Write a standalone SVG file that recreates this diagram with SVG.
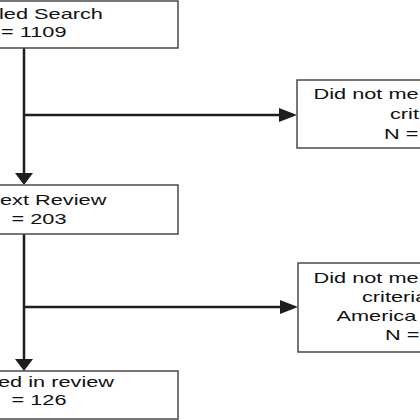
<svg xmlns="http://www.w3.org/2000/svg" width="420" height="420" viewBox="0 0 420 420">
<style>
  .box { fill: #ffffff; stroke: #4a4a4a; stroke-width: 1.5; }
  .t { font-family: "Liberation Sans", Arial, sans-serif; font-size: 14.8px; fill: #111111; }
  .line { fill: none; stroke: #1e1e1e; stroke-width: 2.5; }
</style>
<defs>
  <marker id="ahDown" markerUnits="userSpaceOnUse" viewBox="0 0 18 12" markerWidth="18" markerHeight="12" refX="9" refY="7" orient="0">
    <path d="M0,0 L18,0 L9,12 Z" fill="#1e1e1e"/>
  </marker>
  <marker id="ahRight" markerUnits="userSpaceOnUse" viewBox="0 0 18 14" markerWidth="18" markerHeight="14" refX="13" refY="7" orient="0">
    <path d="M0,0 L18,7 L0,14 Z" fill="#1e1e1e"/>
  </marker>
</defs>
<rect width="420" height="420" fill="#ffffff"/>

<g id="connectors">
  <path class="line" d="M24,48 V180" marker-end="url(#ahDown)"/>
  <path class="line" d="M24,115 H292" marker-end="url(#ahRight)"/>
  <path class="line" d="M24,234 V366" marker-end="url(#ahDown)"/>
  <path class="line" d="M24,307 H293" marker-end="url(#ahRight)"/>
</g>

<g id="node-search">
  <rect class="box" x="-20" y="1" width="198" height="47"/>
  <text class="t" transform="matrix(1.47 0 0 1 -1 18.5)">led Search</text>
  <text class="t" transform="matrix(1.47 0 0 1 1 37)">= 1109</text>
</g>

<g id="node-excluded-1">
  <rect class="box" x="297" y="80" width="140" height="68"/>
  <text class="t" transform="matrix(1.47 0 0 1 313.5 98.5)">Did not me</text>
  <text class="t" transform="matrix(1.47 0 0 1 390 118.5)">crit</text>
  <text class="t" transform="matrix(1.47 0 0 1 384 139)">N =</text>
</g>

<g id="node-fulltext">
  <rect class="box" x="-20" y="185" width="198" height="49"/>
  <text class="t" transform="matrix(1.47 0 0 1 0 205)">ext Review</text>
  <text class="t" transform="matrix(1.47 0 0 1 11.5 223.5)">= 203</text>
</g>

<g id="node-excluded-2">
  <rect class="box" x="298" y="263" width="140" height="89"/>
  <text class="t" transform="matrix(1.47 0 0 1 313.5 282.5)">Did not me</text>
  <text class="t" transform="matrix(1.47 0 0 1 362 301.8)">criteria</text>
  <text class="t" transform="matrix(1.47 0 0 1 336.5 321)">America</text>
  <text class="t" transform="matrix(1.47 0 0 1 385 340.3)">N =</text>
</g>

<g id="node-included">
  <rect class="box" x="-20" y="371" width="198" height="48"/>
  <text class="t" transform="matrix(1.47 0 0 1 -2 387)">ed in review</text>
  <text class="t" transform="matrix(1.47 0 0 1 11.5 405)">= 126</text>
</g>
</svg>
